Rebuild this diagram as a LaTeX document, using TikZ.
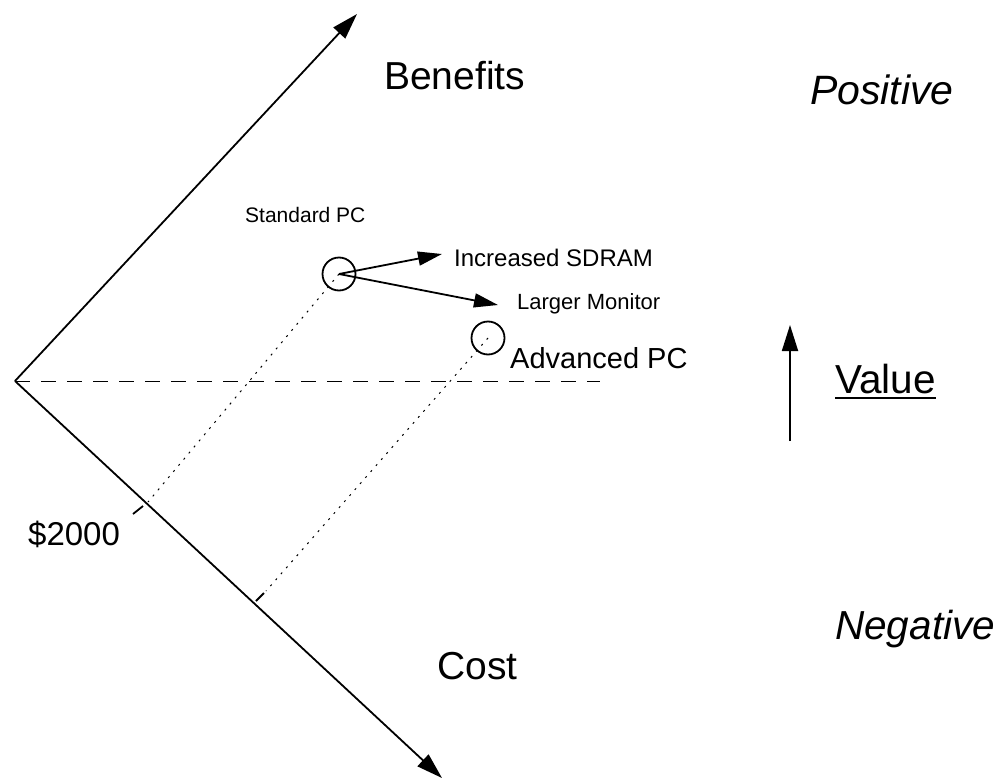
\documentclass[tikz,border=0pt]{standalone}
\usepackage{fontspec}
\setmainfont{Liberation Sans}
\usetikzlibrary{arrows.meta}
\tikzset{
  axis/.style={line width=1.8pt, -{Triangle[length=26pt,width=16pt]}},
  move/.style={line width=1.8pt, -{Triangle[length=24pt,width=14pt]}},
  guide/.style={line width=1pt, dash pattern=on 2pt off 6pt},
  tick/.style={line width=1.8pt},
  pc/.style={circle, draw, line width=1.8pt, minimum size=33pt, inner sep=0pt},
  lbl/.style={anchor=base west, inner sep=0pt},
  big/.style={lbl, font=\fontsize{39}{47}\selectfont},
  slant/.style={lbl, font=\fontsize{41}{49}\selectfont\itshape},
  mid/.style={lbl, font=\fontsize{33}{40}\selectfont},
  adv/.style={lbl, font=\fontsize{29}{35}\selectfont},
  small/.style={lbl, font=\fontsize{22}{26}\selectfont},
}
\begin{document}
\begin{tikzpicture}[x=1pt,y=-1pt]
\useasboundingbox (0,0) rectangle (996,779);

% axes
\coordinate (O) at (15,381);
\coordinate (btip) at (357,14);
\coordinate (ctip) at (442,778);
\coordinate (zero) at (600,381);
\draw[axis] (O) -- (btip);
\draw[axis] (O) -- (ctip);
\draw[line width=1pt, dash pattern=on 15pt off 11pt] (O) -- (zero);

% products
\node[pc] (std) at (339,274) {};
\node[pc] (advpc) at (488,338) {};

\coordinate (sdram) at (442,254);
\coordinate (monitor) at (498,305);
\draw[move] (std.center) -- (sdram);
\draw[move] (std.center) -- (monitor);

% projections onto the cost axis
\coordinate (p1) at (148,502);
\coordinate (t1a) at (143,506);
\coordinate (t1b) at (133,514);
\draw[guide] (std.center) -- (p1);
\draw[tick] (t1a) -- (t1b);

\coordinate (p2) at (266,591);
\coordinate (t2a) at (264,593);
\coordinate (t2b) at (256,601);
\draw[guide] (advpc.center) -- (p2);
\draw[tick] (t2a) -- (t2b);

% value direction
\coordinate (vlow) at (790,441);
\coordinate (vhigh) at (790,325);
\draw[axis] (vlow) -- (vhigh);

% labels
\node[big] (benefits) at (384,89) {Benefits};
\node[big] (cost) at (437,679) {Cost};
\node[slant] (pos) at (810,104) {Positive};
\node[slant, font=\fontsize{40.5}{48}\selectfont\itshape] (neg) at (835,639) {Negative};
\node[big, font=\fontsize{40.5}{48}\selectfont] (value) at (835,393) {Value};
\draw[line width=2.5pt] ([yshift=-5pt]value.base west) -- ([yshift=-5pt]value.base east);
\node[mid] (cost2000) at (28,545) {\$2000};
\node[small, font=\fontsize{21}{25}\selectfont] (stdlbl) at (245,222) {Standard PC};
\node[small, font=\fontsize{24}{29}\selectfont] (sdramlbl) at (454,266) {Increased SDRAM};
\node[small] (monlbl) at (517,309) {Larger Monitor};
\node[adv] (advlbl) at (510,368) {Advanced PC};
\end{tikzpicture}
\end{document}
